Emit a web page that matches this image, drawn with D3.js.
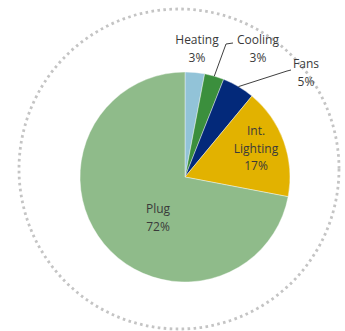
<!DOCTYPE html>
<html><head><meta charset="utf-8">
<script src="https://cdn.jsdelivr.net/npm/d3@7"></script>
<style>body{margin:0;background:#fff;}svg{display:block;}</style>
</head><body>
<script>
const categories = ["Heating", "Cooling", "Fans", "Int. Lighting", "Plug"];
const values = [3, 3, 5, 17, 72];
const colors = ["#92c3d8", "#3b8f3d", "#03297a", "#e2b200", "#8fbb8a"];
const labelLines = [["Heating","3%"],["Cooling","3%"],["Fans","5%"],["Int.","Lighting","17%"],["Plug","72%"]];

const W = 345, H = 331;
const cx = 185, cy = 177, R = 105;
const svg = d3.select("body").append("svg").attr("width", W).attr("height", H);

// dotted outer circle
svg.append("circle").attr("cx", 179).attr("cy", 169).attr("r", 160)
  .attr("fill", "none").attr("stroke", "#c4c4c4").attr("stroke-width", 2.8)
  .attr("stroke-dasharray", "2.6 3.4");

const pie = d3.pie().sort(null).value(d => d)(values);
const arc = d3.arc().innerRadius(0).outerRadius(R);
const g = svg.append("g").attr("transform", `translate(${cx},${cy})`);
g.selectAll("path").data(pie).join("path")
  .attr("d", arc).attr("fill", (d, i) => colors[i])
  .attr("stroke", "#fff").attr("stroke-width", 0.4);

// label positions (absolute)
const labelPos = [[197, 40], [258, 40], [306, 64], [256, 131], [158, 209]];
const lineH = 17.5;
labelPos.forEach((p, i) => {
  const t = svg.append("text").attr("font-family", "Open Sans, sans-serif")
    .attr("font-size", 12).attr("fill", "#3a3a3a").attr("text-anchor", "middle");
  labelLines[i].forEach((s, j) => {
    t.append("tspan").attr("x", p[0]).attr("y", p[1] + j * lineH).attr("dy", "0.35em").text(s);
  });
});

// leader lines (from slice edge to label)
function edgePoint(i) {
  const a = (pie[i].startAngle + pie[i].endAngle) / 2;
  return [cx + Math.sin(a) * R, cy - Math.cos(a) * R];
}
const leaders = [
  [1, [[226, 44], [233, 43]]],
  [2, [[287, 71], [291, 70]]]
];
leaders.forEach(([i, pts]) => {
  const e = edgePoint(i);
  svg.append("path").attr("d", d3.line()([e, ...pts]))
    .attr("fill", "none").attr("stroke", "#404040").attr("stroke-width", 1);
});
</script>
</body></html>
